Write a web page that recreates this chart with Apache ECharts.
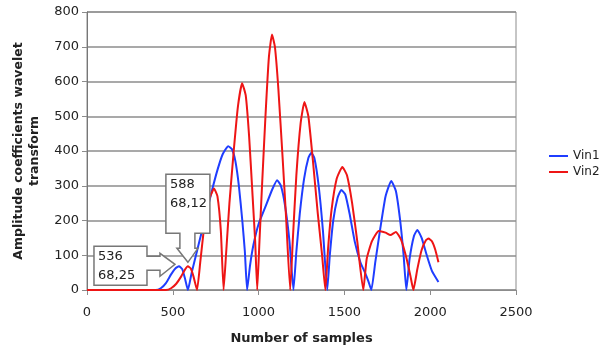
<!DOCTYPE html>
<html>
<head>
<meta charset="utf-8">
<script src="https://cdn.jsdelivr.net/npm/echarts@6/dist/echarts.min.js"></script>
<style>
html,body{margin:0;padding:0;background:#fff;}
#chart{width:608px;height:347px;}
</style>
</head>
<body>
<div id="chart"></div>
<script>
var xTicks = [0, 500, 1000, 1500, 2000, 2500];
var yTicks = [0, 100, 200, 300, 400, 500, 600, 700, 800];
var seriesNames = ['Vin1', 'Vin2'];

var vin1 = [
  [0,0],[400,0],[430,5],[460,20],[490,45],[515,62],[536,68.25],[555,60],[570,35],[588,0],
  [610,50],[640,110],[670,170],[700,230],[730,290],[760,345],[790,390],[823,414],[845,405],[865,370],[885,300],[905,200],[920,110],[933,0],
  [950,70],[970,130],[1000,190],[1040,240],[1080,290],[1108,316],[1130,300],[1155,240],[1180,140],[1203,0],
  [1220,110],[1240,220],[1265,320],[1290,380],[1307,395],[1325,380],[1350,300],[1375,170],[1400,0],
  [1415,100],[1435,200],[1460,265],[1482,288],[1505,275],[1530,220],[1560,140],[1593,80],[1620,50],[1640,25],[1657,0],
  [1680,80],[1710,180],[1740,270],[1773,314],[1800,285],[1825,200],[1845,100],[1861,0],
  [1880,90],[1905,155],[1925,173],[1950,150],[1980,100],[2010,55],[2048,23]
];

var vin2 = [
  [0,0],[460,0],[490,5],[520,18],[550,40],[570,58],[588,68.12],[605,62],[620,40],[641,0],
  [660,80],[680,170],[705,250],[740,292],[760,270],[780,170],[796,0],
  [810,100],[830,250],[855,400],[880,530],[904,595],[925,560],[945,440],[965,270],[980,140],[992,0],
  [1005,140],[1020,300],[1040,500],[1060,670],[1078,735],[1095,700],[1115,580],[1140,380],[1160,210],[1184,0],
  [1200,150],[1220,330],[1245,480],[1267,541],[1290,500],[1315,380],[1345,220],[1370,100],[1389,0],
  [1405,120],[1425,230],[1455,320],[1488,354],[1515,330],[1545,250],[1575,140],[1610,0],
  [1630,90],[1660,140],[1700,170],[1740,165],[1768,158],[1800,167],[1830,145],[1860,95],[1885,40],[1902,0],
  [1925,60],[1950,115],[1975,143],[1990,148],[2010,140],[2030,115],[2048,80]
];

var callouts = [
  {point: [536, 68.25], text: '536\n68,25', series: 0},
  {point: [588, 68.12], text: '588\n68,12', series: 1}
];

var chart = echarts.init(document.getElementById('chart'), null, {renderer: 'canvas'});
var font = 'DejaVu Sans';
chart.setOption({
  animation: false,
  backgroundColor: '#fff',
  grid: {left: 87, right: 92, top: 12, bottom: 57, outerBoundsMode: 'none', containLabel: false,
         show: true, borderColor: '#8c8c8c', borderWidth: 1, backgroundColor: 'transparent'},
  legend: {
    orient: 'vertical', left: 544, top: 145, itemWidth: 19, itemHeight: 2, itemGap: 4,
    icon: 'rect',
    textStyle: {fontFamily: font, fontSize: 12, color: '#222'},
    data: seriesNames
  },
  xAxis: {
    type: 'value', min: xTicks[0], max: xTicks[xTicks.length - 1], interval: 500,
    name: 'Number of samples', nameLocation: 'middle', nameGap: 42,
    nameTextStyle: {fontFamily: font, fontSize: 13, fontWeight: 'bold', color: '#222'},
    axisLine: {show: true, lineStyle: {color: '#8c8c8c', width: 1}},
    axisTick: {show: true, length: 5, lineStyle: {color: '#8c8c8c'}},
    axisLabel: {fontFamily: font, fontSize: 13, color: '#222', margin: 16, formatter: function (v) { return String(v); }},
    splitLine: {show: false}
  },
  yAxis: {
    type: 'value', min: yTicks[0], max: yTicks[yTicks.length - 1], interval: 100,
    name: 'Amplitude coefficients wavelet\ntransform', nameLocation: 'middle', nameGap: 44, nameRotate: 90,
    nameTextStyle: {fontFamily: font, fontSize: 12.5, fontWeight: 'bold', color: '#222', lineHeight: 16},
    axisLine: {show: true, lineStyle: {color: '#777', width: 1}},
    axisTick: {show: true, length: 5, lineStyle: {color: '#8c8c8c'}},
    axisLabel: {fontFamily: font, fontSize: 13, color: '#222', margin: 8, formatter: function (v) { return String(v); }},
    splitLine: {show: true, lineStyle: {color: '#8c8c8c', width: 1.5}}
  },
  series: [
    {name: seriesNames[0], type: 'line', data: vin1, smooth: 0.15, showSymbol: false,
     lineStyle: {color: '#1f3dff', width: 2}, itemStyle: {color: '#1f3dff'}, z: 3},
    {name: seriesNames[1], type: 'line', data: vin2, smooth: 0.15, showSymbol: false,
     lineStyle: {color: '#ee1515', width: 2}, itemStyle: {color: '#ee1515'}, z: 4}
  ]
});

function calloutGraphic(c, idx) {
  var p = chart.convertToPixel({seriesIndex: c.series}, c.point);
  var pts, tx, ty;
  if (idx === 0) {
    pts = [[-85,-20],[-32,-20],[-32,-10],[-19,-10],[-19,-13],[-4,-2],[-19,10],[-19,4],[-32,4],[-32,19],[-85,19]];
    tx = -81; ty = -19;
  } else {
    pts = [[-22,-92],[22,-92],[22,-33],[7,-33],[7,-18],[10,-18],[0,-4],[-11,-18],[-8,-18],[-8,-33],[-22,-33]];
    tx = -18; ty = -91;
  }
  return {
    type: 'group', x: p[0], y: p[1], z: 100,
    children: [
      {type: 'polygon', shape: {points: pts}, style: {fill: '#fff', stroke: '#777', lineWidth: 1.5}, z: 100},
      {type: 'text', x: tx, y: ty, z: 101,
       style: {text: c.text, fontFamily: font, fontSize: 13, lineHeight: 19, fill: '#222', align: 'left', verticalAlign: 'top'}}
    ]
  };
}
chart.setOption({graphic: callouts.map(calloutGraphic)});
</script>
</body>
</html>
